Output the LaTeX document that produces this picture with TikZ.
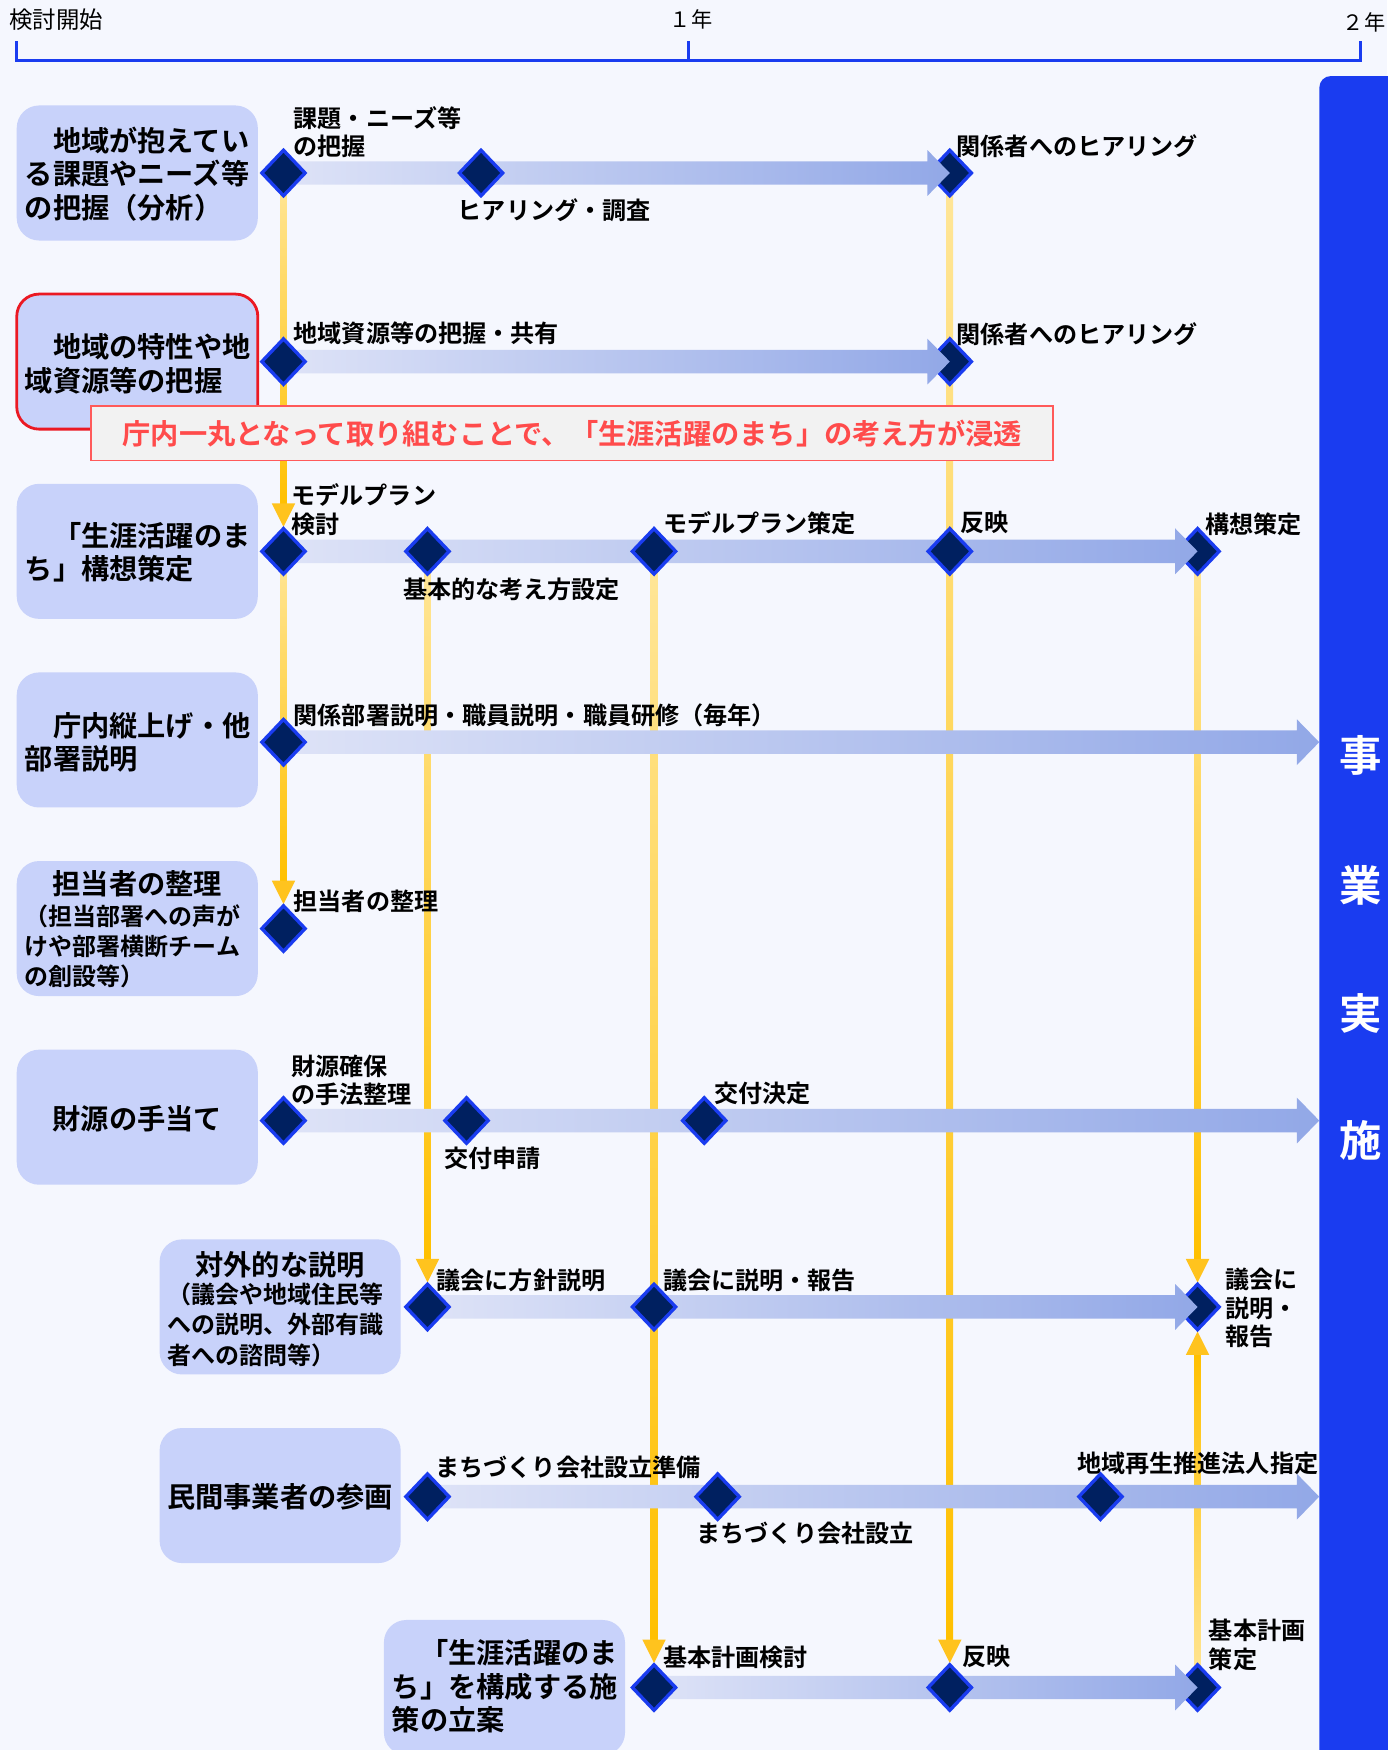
\documentclass[tikz,border=0pt]{standalone}
\usepackage{fontspec}
\setmainfont{Noto Sans CJK JP}[BoldFont={* Bold}]
\usetikzlibrary{shapes.geometric,calc}
\definecolor{bgc}{RGB}{245,247,254}
\definecolor{blu}{RGB}{26,60,240}
\definecolor{navy}{RGB}{0,32,96}
\definecolor{boxc}{RGB}{200,210,250}
\definecolor{barL}{RGB}{222,227,247}
\definecolor{barR}{RGB}{146,168,231}
\definecolor{yl}{RGB}{255,230,153}
\definecolor{yd}{RGB}{255,192,0}
\definecolor{ya}{RGB}{255,195,30}
\definecolor{redb}{RGB}{235,25,35}
\definecolor{calb}{RGB}{255,90,90}
\definecolor{calf}{RGB}{242,242,242}
\definecolor{calt}{RGB}{255,75,75}
\pgfdeclarelayer{back}\pgfdeclarelayer{lines}\pgfdeclarelayer{ends}\pgfdeclarelayer{bars}
\pgfsetlayers{back,lines,ends,bars,main}
\tikzset{
 dia/.style={diamond, draw=blu, fill=navy, line width=3pt, minimum width=40pt, minimum height=42pt, inner sep=0pt},
 lbl/.style={anchor=west, inner sep=0pt, font=\bfseries\fontsize{21.6}{25.5}\selectfont, align=left},
 boxtxt/.style={anchor=west, inner sep=0pt, font=\bfseries\fontsize{25.3}{30}\selectfont, align=left},
 subtxt/.style={anchor=west, inner sep=0pt, font=\bfseries\fontsize{21.5}{27}\selectfont, align=left},
 ttl/.style={inner sep=0pt, font=\bfseries\fontsize{25.3}{30}\selectfont},
 lane/.style={rectangle, rounded corners=20pt, fill=boxc, minimum width=216pt, minimum height=121pt, inner sep=0pt},
 tlbl/.style={anchor=west, inner sep=0pt, font=\fontsize{21}{25}\selectfont},
 ylbl/.style={anchor=west, inner sep=0pt, font=\fontsize{19}{22}\selectfont},
 impltxt/.style={text=white, inner sep=0pt, font=\bfseries\fontsize{38}{40}\selectfont},
 tline/.style={draw=blu, line width=2.5pt},
}
\newcommand\hbarrow[2]{\shade[left color=barL,right color=barR] ($(#1)+(0,-10.5)$) -- ($(#2)+(-20,-10.5)$) -- ($(#2)+(-20,-20.5)$) -- ($(#2)+(0,0)$) -- ($(#2)+(-20,20.5)$) -- ($(#2)+(-20,10.5)$) -- ($(#1)+(0,10.5)$) -- cycle;}
\newcommand\ydown[2]{\shade[top color=yl,bottom color=yd] ($(#1)+(-3,0)$) rectangle ($(#2)+(3,-42)$);
 \fill[ya] ($(#2)+(0,-22)$) -- ($(#2)+(-10.5,-43)$) -- ($(#2)+(10.5,-43)$) -- cycle;}
\newcommand\yup[2]{\shade[top color=yd,bottom color=yl] ($(#1)+(-3,0)$) rectangle ($(#2)+(3,42)$);
 \fill[ya] ($(#2)+(0,22)$) -- ($(#2)+(-10.5,43)$) -- ($(#2)+(10.5,43)$) -- cycle;}
\begin{document}
\begin{tikzpicture}[x=1pt,y=-1pt]
\useasboundingbox (0,0) rectangle (1243,1568);
\begin{pgfonlayer}{back}
\fill[bgc] (0,0) rectangle (1243,1568);
\node[fill=blu, rounded corners=10pt, minimum width=140pt, minimum height=1560pt, anchor=north west, inner sep=0pt] (implbar) at (1182,68) {};
\end{pgfonlayer}
% end diamonds (under arrow heads)
\begin{pgfonlayer}{ends}
\node[dia] (d1c) at (851,155) {};
\node[dia] (d2b) at (851,324) {};
\node[dia] (d3e) at (1073,494) {};
\node[dia] (d7c) at (1073,1171) {};
\node[dia] (d9c) at (1073,1512) {};
\end{pgfonlayer}
% other diamonds
\node[dia] (d1a) at (254,155) {};
\node[dia] (d1b) at (431,155) {};
\node[dia] (d2a) at (254,324) {};
\node[dia] (d3a) at (254,494) {};
\node[dia] (d3b) at (383,494) {};
\node[dia] (d3c) at (586,494) {};
\node[dia] (d3d) at (851,494) {};
\node[dia] (d4a) at (254,665) {};
\node[dia] (d5a) at (254,832) {};
\node[dia] (d6a) at (254,1004) {};
\node[dia] (d6b) at (418,1004) {};
\node[dia] (d6c) at (631,1004) {};
\node[dia] (d7a) at (383,1171) {};
\node[dia] (d7b) at (586,1171) {};
\node[dia] (d8a) at (383,1341) {};
\node[dia] (d8b) at (643,1341) {};
\node[dia] (d8c) at (986,1341) {};
\node[dia] (d9a) at (586,1512) {};
\node[dia] (d9b) at (851,1512) {};
\coordinate (e4) at (implbar.west |- d4a);
\coordinate (e6) at (implbar.west |- d6a);
\coordinate (e8) at (implbar.west |- d8a);
% vertical yellow connectors
\begin{pgfonlayer}{lines}
\ydown{d1a}{d3a}
\ydown{d3a}{d5a}
\ydown{d3b}{d7a}
\ydown{d3c}{d9a}
\ydown{d1c}{d9b}
\ydown{d3e}{d7c}
\yup{d9c}{d7c}
\end{pgfonlayer}
% horizontal bars
\begin{pgfonlayer}{bars}
\hbarrow{d1a}{d1c}
\hbarrow{d2a}{d2b}
\hbarrow{d3a}{d3e}
\hbarrow{d4a}{e4}
\hbarrow{d6a}{e6}
\hbarrow{d7a}{d7c}
\hbarrow{d8a}{e8}
\hbarrow{d9a}{d9c}
\end{pgfonlayer}
% timeline
\draw[tline] (15,37) -- (15,54) -- (1219,54) -- (1219,37);
\draw[tline] (617,54) -- (617,37);
\node[tlbl] (t0) at (8,18) {検討開始};
\node[ylbl] (t1) at (600,17) {１年};
\node[ylbl] (t2) at (1203,20) {２年};
% right bar text
\node[impltxt] (im1) at (1219,677) {事};
\node[impltxt] (im2) at (1219,793) {業};
\node[impltxt] (im3) at (1219,908) {実};
\node[impltxt] (im4) at (1219,1022) {施};
% lanes
\node[lane] (b1) at (123,155) {};
\node[lane, draw=redb, line width=2.5pt] (b2) at (123,324) {};
\node[lane] (b3) at (123,494) {};
\node[lane] (b4) at (123,663) {};
\node[lane] (b5) at (123,832) {};
\node[lane] (b6) at (123,1001) {};
\node[lane] (b7) at (251,1171) {};
\node[lane] (b8) at (251,1340) {};
\node[lane] (b9) at (452,1512) {};
\node[boxtxt] (bt1) at (22,156) {\hspace*{1em}地域が抱えてい\\る課題やニーズ等\\の把握（分析）};
\node[boxtxt] (bt2) at (22,326) {\hspace*{1em}地域の特性や地\\域資源等の把握};
\node[boxtxt] (bt3) at (22,495) {\hspace*{1em}「生涯活躍のま\\ち」構想策定};
\node[boxtxt] (bt4) at (22,665) {\hspace*{1em}庁内縦上げ・他\\部署説明};
\node[ttl] (bt5) at (123,792) {担当者の整理};
\node[subtxt] (bs5) at (22,848) {（担当部署への声が\\けや部署横断チーム\\の創設等）};
\node[ttl] (bt6) at (123,1002) {財源の手当て};
\node[ttl] (bt7) at (251,1133) {対外的な説明};
\node[subtxt] (bs7) at (150,1187) {（議会や地域住民等\\への説明、外部有識\\者への諮問等）};
\node[ttl] (bt8) at (251,1341) {民間事業者の参画};
\node[boxtxt] (bt9) at (351,1511) {\hspace*{1em}「生涯活躍のま\\ち」を構成する施\\策の立案};
% callout
\node[draw=calb, fill=calf, line width=1.5pt, minimum width=862pt, minimum height=49pt, inner sep=0pt, anchor=north west] (call) at (81,363) {};
\node[text=calt, inner sep=0pt, font=\bfseries\fontsize{25.3}{30}\selectfont] (callt) at (call.center) {庁内一丸となって取り組むことで、「生涯活躍のまち」の考え方が浸透};
% labels
\node[lbl] (l1a) at (263,118.5) {課題・ニーズ等\\の把握};
\node[lbl] (l1b) at (410,188) {ヒアリング・調査};
\node[lbl] (l1c) at (857,131) {関係者へのヒアリング};
\node[lbl] (l2a) at (263,299) {地域資源等の把握・共有};
\node[lbl] (l2b) at (857,299) {関係者へのヒアリング};
\node[lbl] (l3a) at (261,456.5) {モデルプラン\\検討};
\node[lbl] (l3b) at (361,528) {基本的な考え方設定};
\node[lbl] (l3c) at (594,469) {モデルプラン策定};
\node[lbl] (l3d) at (860,468) {反映};
\node[lbl] (l3e) at (1080,470) {構想策定};
\node[lbl] (l4a) at (263,641) {関係部署説明・職員説明・職員研修（毎年）};
\node[lbl] (l5a) at (263,808) {担当者の整理};
\node[lbl] (l6a) at (261,968) {財源確保\\の手法整理};
\node[lbl] (l6b) at (398,1038) {交付申請};
\node[lbl] (l6c) at (640,980) {交付決定};
\node[lbl] (l7a) at (391,1147) {議会に方針説明};
\node[lbl] (l7b) at (594,1147) {議会に説明・報告};
\node[lbl] (l7c) at (1098,1172) {議会に\\説明・\\報告};
\node[lbl] (l8a) at (390,1315) {まちづくり会社設立準備};
\node[lbl] (l8b) at (624,1374) {まちづくり会社設立};
\node[lbl] (l8c) at (965,1311) {地域再生推進法人指定};
\node[lbl] (l9a) at (594,1485) {基本計画検討};
\node[lbl] (l9b) at (862,1484) {反映};
\node[lbl] (l9c) at (1083,1474) {基本計画\\策定};
\end{tikzpicture}
\end{document}
